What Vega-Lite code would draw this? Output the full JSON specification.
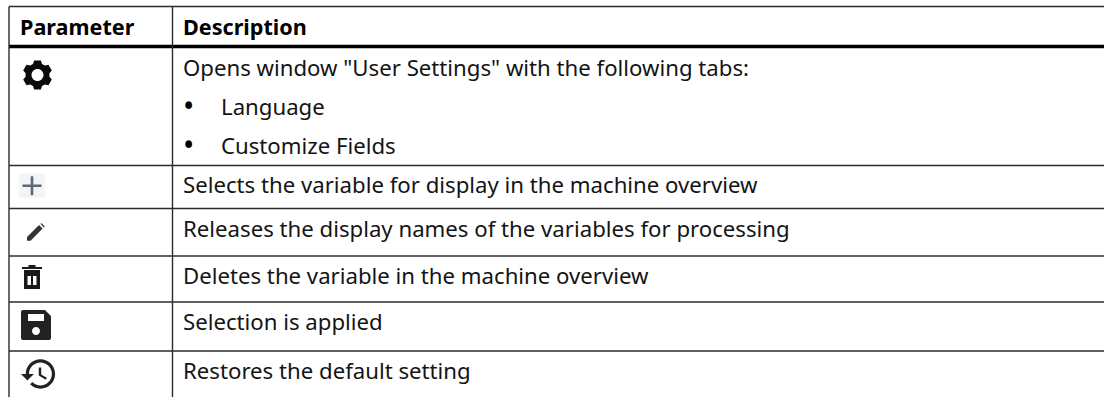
{
"$schema":"https://vega.github.io/schema/vega-lite/v6.json",
"autosize":{"type":"fit","contains":"padding"},
"padding":0,
"width":1104,
"height":397,
"background":"#ffffff",
"config":{"view":{"stroke":null}},
"datasets":{
"hlines":[{"from":0,"to":9,"line":0},{"from":0,"to":9,"line":7},{"from":0,"to":9,"line":10},{"from":0,"to":9,"line":13},{"from":0,"to":9,"line":16},{"from":0,"to":9,"line":19}],
"heavy":[{"from":0,"to":9,"line":2}],
"vlines":[{"col":0,"top":0,"bottom":22},{"col":6,"top":0,"bottom":22}],
"header":[{"col":1,"line":1,"text":"Parameter"},{"col":7,"line":1,"text":"Description"}],
"bullets":[{"col":7,"line":5,"text":"•"},{"col":7,"line":6,"text":"•"}],
"cells":[
{"col":7,"line":4,"text":"Opens window \"User Settings\" with the following tabs:"},
{"col":8,"line":5,"text":"Language"},
{"col":8,"line":6,"text":"Customize Fields"},
{"col":7,"line":9,"text":"Selects the variable for display in the machine overview"},
{"col":7,"line":12,"text":"Releases the display names of the variables for processing"},
{"col":7,"line":15,"text":"Deletes the variable in the machine overview"},
{"col":7,"line":18,"text":"Selection is applied"},
{"col":7,"line":21,"text":"Restores the default setting"}],
"icons":[
{"icon":"plusbg","col":2,"line":8},
{"icon":"gear","col":4,"line":3},
{"icon":"pencil","col":3,"line":11},
{"icon":"trash","col":2,"line":14},
{"icon":"save","col":3,"line":17},
{"icon":"restore","col":5,"line":20}],
"plus":[{"icon":"plus","col":2,"line":8}]
},
"layer":[
{"data":{"name":"icons"},
 "mark":{"type":"point","filled":true,"size":4,"opacity":1,"strokeWidth":0},
 "encoding":{
  "x":{"field":"col","type":"quantitative","axis":null,"scale":{"domain":[0,1,2,3,4,5,6,7,8,9],"range":[9,20,32,36,37.5,38,172.5,183,221,1104],"nice":false,"zero":false}},
  "y":{"field":"line","type":"quantitative","axis":null,"scale":{"domain":[0,1,2,3,4,5,6,7,8,9,10,11,12,13,14,15,16,17,18,19,20,21,22],"range":[6.5,35,46.5,75,76,115,154,165.5,185.7,193.3,208.5,232,237,256,277,284,302,325,330,351,374,379,397],"nice":false,"zero":false}},
  "shape":{"field":"icon","type":"nominal","legend":null,"scale":{"domain":["plusbg","gear","pencil","trash","save","restore"],"range":[
"M-13 -12H13V12H-13Z",
"M3.4 -14.6L4.5 -11.1L7.4 -9.5L11 -10.2L14.3 -4.4L11.9 -1.7L11.9 1.7L14.3 4.4L11 10.2L7.4 9.5L4.5 11.1L3.4 14.6L-3.4 14.6L-4.5 11.1L-7.4 9.5L-11 10.2L-14.3 4.4L-11.9 1.7L-11.9 -1.7L-14.3 -4.4L-11 -10.2L-7.4 -9.5L-4.5 -11.1L-3.4 -14.6ZM6 0A6 6 0 1 0 -6 0A6 6 0 1 0 6 0Z",
"M-9 8.7L-9 5L3 -7L6.6 -3.4L-5.4 8.7ZM4.4 -8.2L5.6 -8.8L8.8 -5.6L7.8 -4.6Z",
"M-3.5 -12H3.5V-10H10V-8H-10V-10H-3.5ZM-8 -7H8V12H-8ZM-4.5 -1V8H-1V-1ZM1 -1V8H4.5V-1Z",
"M-15 -13Q-15 -15 -13 -15H9L15 -9V13Q15 15 13 15H-13Q-15 15 -15 13ZM-8 -11V-4H8V-11ZM4 6A4 4 0 1 0 -4 6A4 4 0 1 0 4 6Z",
"M2.4 -14.7c-8.1 0 -14.67 6.57 -14.67 14.67H-17.1l6.34 6.34l.11 .23L-4.08 0H-8.97c0 -6.31 5.1 -11.41 11.41 -11.41s11.41 5.1 11.41 11.41s-5.1 11.41 -11.41 11.41c-3.15 0 -6 -1.29 -8.05 -3.36l-2.31 2.31C-5.26 13.02 -1.61 14.67 2.44 14.67c8.1 0 14.67 -6.57 14.67 -14.67s-6.57 -14.67 -14.67 -14.67zm-1.63 8.15v8.15l6.98 4.14l1.17 -1.97l-5.7 -3.39V-6.52H.8z"
]}},
  "color":{"field":"icon","type":"nominal","legend":null,"scale":{"domain":["plusbg","gear","pencil","trash","save","restore"],"range":["#f3f4f6","#0a0a0a","#333333","#1a1a1a","#222222","#222222"]}}
 }},
{"data":{"name":"plus"},
 "mark":{"type":"point","filled":true,"size":4,"opacity":1,"strokeWidth":0,"color":"#5d6875","shape":"M-1.3 -9.5H1.3V-1.3H9.5V1.3H1.3V9.5H-1.3V1.3H-9.5V-1.3H-1.3Z"},
 "encoding":{"x":{"field":"col","type":"quantitative"},"y":{"field":"line","type":"quantitative"}}},
{"data":{"name":"hlines"},
 "mark":{"type":"rule","stroke":"#2b2b2b","strokeWidth":1.4},
 "encoding":{"x":{"field":"from","type":"quantitative"},"x2":{"field":"to"},"y":{"field":"line","type":"quantitative"}}},
{"data":{"name":"heavy"},
 "mark":{"type":"rule","stroke":"#000000","strokeWidth":3.6},
 "encoding":{"x":{"field":"from","type":"quantitative"},"x2":{"field":"to"},"y":{"field":"line","type":"quantitative"}}},
{"data":{"name":"vlines"},
 "mark":{"type":"rule","stroke":"#2b2b2b","strokeWidth":1.4},
 "encoding":{"x":{"field":"col","type":"quantitative"},"y":{"field":"top","type":"quantitative"},"y2":{"field":"bottom"}}},
{"data":{"name":"header"},
 "mark":{"type":"text","align":"left","baseline":"alphabetic","font":"Noto Sans","fontSize":21.6,"fontWeight":"bold","fill":"#000000"},
 "encoding":{"x":{"field":"col","type":"quantitative"},"y":{"field":"line","type":"quantitative"},"text":{"field":"text","type":"nominal"}}},
{"data":{"name":"bullets"},
 "mark":{"type":"text","align":"left","baseline":"alphabetic","font":"Noto Sans","fontSize":30,"dy":2,"fill":"#000000"},
 "encoding":{"x":{"field":"col","type":"quantitative"},"y":{"field":"line","type":"quantitative"},"text":{"field":"text","type":"nominal"}}},
{"data":{"name":"cells"},
 "mark":{"type":"text","align":"left","baseline":"alphabetic","font":"Noto Sans","fontSize":22.2,"fill":"#141414"},
 "encoding":{"x":{"field":"col","type":"quantitative"},"y":{"field":"line","type":"quantitative"},"text":{"field":"text","type":"nominal"}}}
]
}
